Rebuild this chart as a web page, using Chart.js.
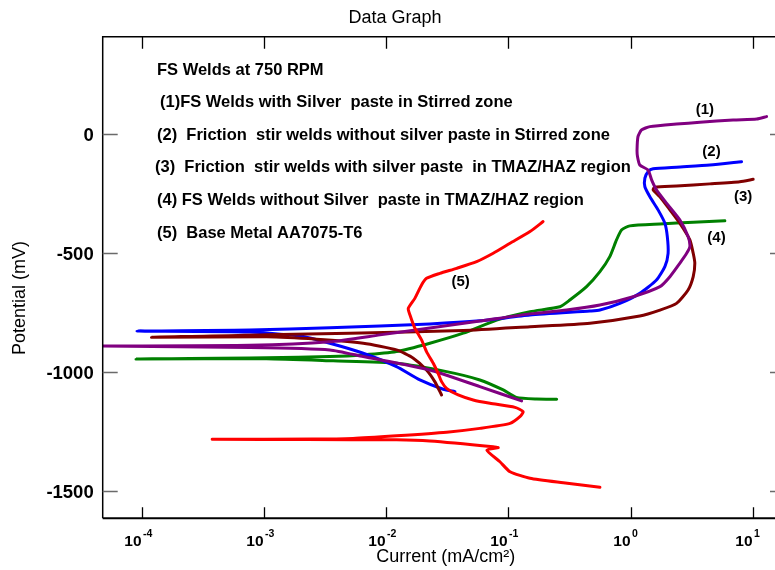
<!DOCTYPE html>
<html>
<head>
<meta charset="utf-8">
<script src="https://cdn.jsdelivr.net/npm/chart.js@4.4.1/dist/chart.umd.min.js"></script>
<style>
  html, body { margin: 0; padding: 0; background: #fff; overflow: hidden; }
  #wrap { width: 790px; height: 570px; }
</style>
</head>
<body>
<div id="wrap"><canvas id="tafel" width="790" height="570"></canvas></div>
<script>
// Polarization curves, current in mA/cm2 (log axis) vs potential in mV

// (1) FS welds with silver paste, stirred zone
const s1Current = [13.0, 10.8, 6.92, 3.70, 2.38, 1.44, 1.23, 1.15, 1.13, 1.14, 1.19, 1.39, 1.49, 1.63, 1.97, 2.53, 2.96, 3.06, 2.88, 2.53, 2.10, 1.74, 1.05, 0.561, 0.299, 0.150, 0.0583, 0.0227, 0.00885, 0.00344, 0.000762, 0.0000434, 0.000762, 0.00344, 0.00646, 0.0227, 0.0583, 0.128];
const s1Potential = [71, 61, 57, 47, 40, 29, 15, -13, -69, -97, -132, -153, -195, -236, -292, -362, -432, -474, -502, -544, -600, -642, -684, -719, -740, -756, -786, -815, -844, -873, -888, -891, -897, -907, -935, -991, -1061, -1121];

// (2) friction stir welds without silver paste, stirred zone
const s2Current = [8.11, 4.46, 2.38, 1.53, 1.39, 1.31, 1.31, 1.44, 1.68, 1.91, 2.00, 2.03, 1.91, 1.63, 1.19, 0.817, 0.561, 0.465, 0.150, 0.0583, 0.0227, 0.00344, 0.000762, 0.0000905, 0.000762, 0.00196, 0.00344, 0.00646, 0.0121, 0.0188, 0.0292, 0.0364];
const s2Potential = [-118, -132, -141, -148, -160, -187, -223, -265, -320, -376, -432, -502, -558, -614, -670, -712, -740, -744, -761, -785, -798, -814, -824, -828, -832, -849, -879, -921, -977, -1033, -1072, -1082];

// (3) friction stir welds with silver paste, TMAZ/HAZ
const s3Current = [10.1, 7.85, 4.46, 2.38, 1.58, 1.53, 1.74, 2.10, 2.53, 3.06, 3.26, 3.36, 3.26, 2.96, 2.38, 1.74, 1.19, 0.465, 0.150, 0.0426, 0.00502, 0.00104, 0.000119, 0.00104, 0.00268, 0.00646, 0.0121, 0.0166, 0.0213, 0.0249, 0.0283];
const s3Potential = [-192, -202, -211, -220, -225, -236, -265, -320, -376, -446, -502, -544, -600, -656, -712, -740, -765, -795, -810, -826, -837, -844, -854, -852, -862, -879, -907, -942, -991, -1040, -1096];

// (4) FS welds without silver paste, TMAZ/HAZ
const s4Current = [5.92, 3.26, 1.74, 0.986, 0.843, 0.767, 0.676, 0.561, 0.436, 0.318, 0.264, 0.150, 0.0800, 0.0426, 0.0227, 0.0121, 0.00646, 0.00344, 0.00104, 0.0000888, 0.00104, 0.00366, 0.0121, 0.0311, 0.0583, 0.0906, 0.116, 0.170, 0.248];
const s4Potential = [-366, -372, -379, -387, -404, -446, -516, -579, -642, -698, -726, -747, -782, -837, -879, -914, -928, -935, -940, -945, -944, -953, -963, -998, -1033, -1075, -1106, -1113, -1114];

// (5) base metal AA7075-T6
const s5Current = [0.192, 0.150, 0.103, 0.0750, 0.0548, 0.0376, 0.0274, 0.0213, 0.0194, 0.0171, 0.0151, 0.0156, 0.0171, 0.0194, 0.0213, 0.0242, 0.0265, 0.0283, 0.0311, 0.0387, 0.0514, 0.0705, 0.113, 0.132, 0.124, 0.103, 0.0583, 0.0311, 0.0121, 0.00532, 0.00250, 0.000374, 0.00222, 0.0121, 0.0227, 0.0750, 0.0824, 0.0665, 0.0851, 0.103, 0.150, 0.281, 0.561];
const s5Potential = [-369, -411, -460, -502, -537, -565, -586, -607, -635, -691, -733, -761, -816, -865, -914, -963, -1005, -1040, -1068, -1096, -1117, -1131, -1148, -1166, -1187, -1215, -1236, -1252, -1267, -1278, -1281, -1282, -1283, -1284, -1289, -1313, -1317, -1327, -1376, -1418, -1445, -1464, -1483];

const potentialTicks = [0, -500, -1000, -1500];
const currentDecades = [-4, -3, -2, -1, 0, 1];

const legendLines = [
  "FS Welds at 750 RPM",
  "(1)FS Welds with Silver  paste in Stirred zone",
  "(2)  Friction  stir welds without silver paste in Stirred zone",
  "(3)  Friction  stir welds with silver paste  in TMAZ/HAZ region",
  "(4) FS Welds without Silver  paste in TMAZ/HAZ region",
  "(5)  Base Metal AA7075-T6"
];

function toPoints(cur, pot) {
  return cur.map((c, i) => ({ x: c, y: pot[i] }));
}

function curve(cur, pot, color) {
  return {
    data: toPoints(cur, pot),
    showLine: true,
    borderColor: color,
    backgroundColor: color,
    borderWidth: 3,
    pointRadius: 0,
    tension: 0.2,
    borderCapStyle: "round",
    borderJoinStyle: "round"
  };
}

// frame with inward ticks, tick labels and all the text on the plot
const decorations = {
  id: "decorations",
  afterDatasetsDraw(chart) {
    const { ctx, chartArea: a, scales: { x, y } } = chart;
    const family = "'Liberation Sans', Arial, sans-serif";
    ctx.save();

    // frame
    ctx.strokeStyle = "#000";
    ctx.lineWidth = 1.5;
    ctx.beginPath();
    ctx.moveTo(a.left, a.bottom);
    ctx.lineTo(a.left, a.top);
    ctx.lineTo(a.right, a.top);
    ctx.lineTo(a.right, a.bottom);
    ctx.stroke();
    ctx.lineWidth = 2;
    ctx.beginPath();
    ctx.moveTo(a.left, a.bottom);
    ctx.lineTo(a.right, a.bottom);
    ctx.stroke();

    // potential ticks
    ctx.strokeStyle = "#6a6a6a";
    ctx.lineWidth = 1.5;
    ctx.fillStyle = "#000";
    ctx.font = "bold 18.5px " + family;
    ctx.textAlign = "right";
    ctx.textBaseline = "middle";
    potentialTicks.forEach(v => {
      const py = Math.round(y.getPixelForValue(v)) + 0.5;
      ctx.beginPath();
      ctx.moveTo(a.left, py);
      ctx.lineTo(a.left + 15, py);
      ctx.moveTo(a.right - 15, py);
      ctx.lineTo(a.right, py);
      ctx.stroke();
      ctx.fillText(String(v), a.left - 9, py + 1);
    });

    // current decade ticks
    ctx.strokeStyle = "#000";
    ctx.lineWidth = 1.3;
    ctx.textBaseline = "alphabetic";
    currentDecades.forEach(d => {
      const px = Math.round(x.getPixelForValue(Math.pow(10, d))) + 0.5;
      ctx.beginPath();
      ctx.moveTo(px, a.bottom);
      ctx.lineTo(px, a.bottom - 11);
      ctx.moveTo(px, a.top);
      ctx.lineTo(px, a.top + 12);
      ctx.stroke();
      ctx.font = "bold 15.5px " + family;
      ctx.textAlign = "right";
      ctx.fillText("10", px - 1, 546);
      ctx.font = "bold 10.5px " + family;
      ctx.textAlign = "left";
      ctx.fillText(String(d), px + 0.5, 537);
    });

    // titles
    ctx.font = "18px " + family;
    ctx.textAlign = "center";
    ctx.textBaseline = "middle";
    ctx.fillText("Data Graph", chart.width / 2, 18);
    ctx.fillText("Current (mA/cm\u00B2)", (a.left + a.right) / 2 + 2, 557);
    ctx.save();
    ctx.translate(20, 298);
    ctx.rotate(-Math.PI / 2);
    ctx.fillText("Potential (mV)", 0, 0);
    ctx.restore();

    // legend block
    ctx.font = "bold 16.5px " + family;
    ctx.textAlign = "left";
    const lx = [157, 160, 157, 155, 157, 157];
    legendLines.forEach((t, i) => {
      ctx.fillText(t, lx[i], 70 + i * 32.6);
    });

    // curve numbers, placed in data coordinates
    ctx.font = "bold 15px " + family;
    ctx.textAlign = "center";
    [["(1)", 4.06, 99], ["(2)", 4.60, -76], ["(3)", 8.36, -267],
     ["(4)", 5.06, -439], ["(5)", 0.0406, -621]].forEach(([t, c, p]) => {
      ctx.fillText(t, x.getPixelForValue(c), y.getPixelForValue(p));
    });

    ctx.restore();
  }
};

new Chart(document.getElementById("tafel"), {
  type: "scatter",
  data: {
    datasets: [
      curve(s5Current, s5Potential, "#ff0000"),
      curve(s1Current, s1Potential, "#800080"),
      curve(s3Current, s3Potential, "#800000"),
      curve(s2Current, s2Potential, "#0000ff"),
      curve(s4Current, s4Potential, "#008000")
    ]
  },
  options: {
    responsive: false,
    animation: false,
    layout: { padding: { left: 102.7, top: 36.7, right: 5, bottom: 51.7 } },
    plugins: { legend: { display: false }, tooltip: { enabled: false } },
    scales: {
      x: { type: "logarithmic", display: false, min: 4.742e-5, max: 18.41 },
      y: { type: "linear", display: false, min: -1613, max: 406 }
    }
  },
  plugins: [decorations]
});
</script>
</body>
</html>
